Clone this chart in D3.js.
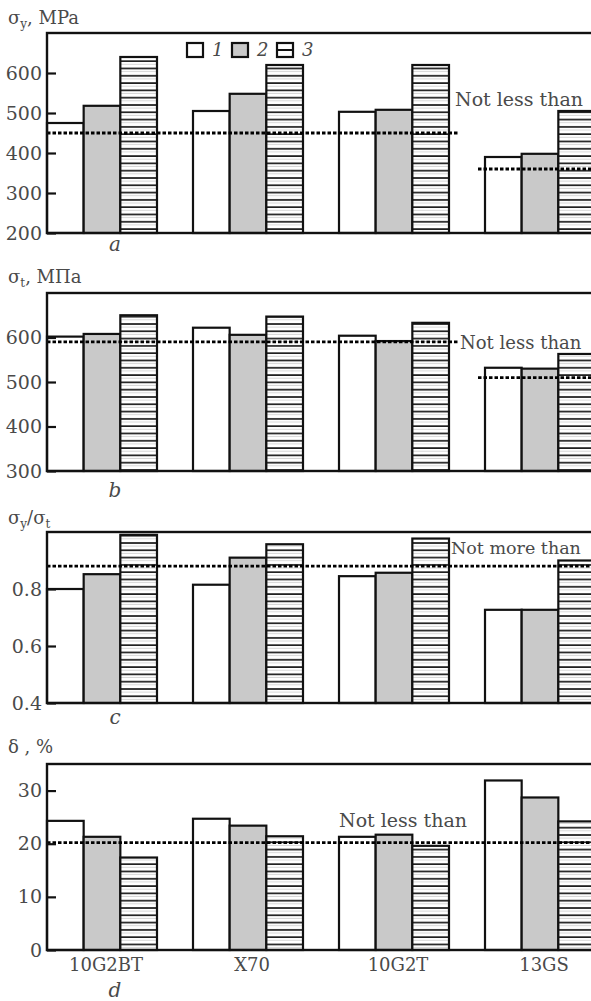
<!DOCTYPE html>
<html>
<head>
<meta charset="utf-8">
<script src="https://cdn.jsdelivr.net/npm/d3@7/dist/d3.min.js"></script>
<style>
  body { margin: 0; background: #fff; }
  text { font-family: "DejaVu Serif", serif; fill: #4a4a4a; }
</style>
</head>
<body>
<svg id="chart" width="591" height="1001"></svg>
<script>
// steel grades and the three states (1, 2, 3)
const categories = ['10G2BT', 'X70', '10G2T', '13GS'];
const seriesNames = ['1', '2', '3'];

// yield strength, MPa
const yieldValues = [[475, 518, 640], [505, 548, 620], [503, 508, 620], [390, 398, 505]];
const yieldLimits = [450, 450, 450, 360];
const yieldTicks = [200, 300, 400, 500, 600];

// tensile strength, MPa
const tensileValues = [[602, 608, 650], [622, 606, 647], [604, 592, 633], [532, 530, 563]];
const tensileLimits = [590, 590, 590, 510];
const tensileTicks = [300, 400, 500, 600];

// yield / tensile ratio
const ratioValues = [[0.80, 0.852, 0.99], [0.815, 0.91, 0.957], [0.845, 0.857, 0.977], [0.727, 0.727, 0.90]];
const ratioLimits = [0.88, 0.88, 0.88, 0.88];
const ratioTicks = [0.4, 0.6, 0.8];

// elongation, %
const elongValues = [[24.3, 21.3, 17.4], [24.7, 23.4, 21.4], [21.3, 21.7, 19.6], [31.9, 28.7, 24.2]];
const elongLimits = [20.2, 20.2, 20.2, 20.2];
const elongTicks = [0, 10, 20, 30];

const svg = d3.select('#chart');
const left = 47;
const right = 610;
const fontFamily = '"DejaVu Serif", serif';

const x0 = d3.scaleBand()
  .domain(categories)
  .range([left, 595])
  .paddingInner(0.2466)
  .paddingOuter(0);

const x1 = d3.scaleBand()
  .domain(seriesNames)
  .range([0, x0.bandwidth()]);

// striped fill for series 3
const defs = svg.append('defs');
const stripes = defs.append('pattern')
  .attr('id', 'stripes')
  .attr('patternUnits', 'userSpaceOnUse')
  .attr('width', 10)
  .attr('height', 7.3);
stripes.append('rect').attr('width', 10).attr('height', 7.3).attr('fill', '#fff');
stripes.append('rect').attr('y', 2).attr('width', 10).attr('height', 1.6).attr('fill', '#111');
stripes.append('rect').attr('y', 5.4).attr('width', 10).attr('height', 0.8).attr('fill', '#ccc');

const fills = { '1': '#fff', '2': '#c9c9c9', '3': 'url(#stripes)' };

const panels = [
  {
    values: yieldValues, limits: yieldLimits, ticks: yieldTicks, domain: [200, 700],
    top: 33, bottom: 233, fmt: d3.format('d'),
    title: ['σ', 'y', ', MPa'], titleY: 24, letter: 'a', letterY: 251,
    note: 'Not less than', noteX: 455, noteY: 106, noteSize: 19,
  },
  {
    values: tensileValues, limits: tensileLimits, ticks: tensileTicks, domain: [300, 700],
    top: 293, bottom: 471, fmt: d3.format('d'),
    title: ['σ', 't', ', MПa'], titleY: 283, letter: 'b', letterY: 497,
    note: 'Not less than', noteX: 460, noteY: 349, noteSize: 18,
  },
  {
    values: ratioValues, limits: ratioLimits, ticks: ratioTicks, domain: [0.4, 1.0],
    top: 532, bottom: 703, fmt: d3.format('.1f'),
    title: ['σ', 'y', '/σ', 't'], titleY: 524, letter: 'c', letterY: 724,
    note: 'Not more than', noteX: 451, noteY: 554, noteSize: 17.5,
  },
  {
    values: elongValues, limits: elongLimits, ticks: elongTicks, domain: [0, 35],
    top: 764, bottom: 950, fmt: d3.format('d'),
    title: ['δ , %'], titleY: 753, letter: 'd', letterY: 997,
    note: 'Not less than', noteX: 339, noteY: 827, noteSize: 19, xLabels: true,
  },
];

panels.forEach((p) => {
  const y = d3.scaleLinear().domain(p.domain).range([p.bottom, p.top]);
  const g = svg.append('g');

  // title with subscripts
  const title = g.append('text').attr('x', 8).attr('y', p.titleY).style('font-size', '18px');
  p.title.forEach((part, i) => {
    const sub = (p.title.length > 1) && (i % 2 === 1);
    title.append('tspan')
      .attr('dy', sub ? 4 : (i > 0 ? -4 : 0))
      .style('font-size', sub ? '12px' : '18px')
      .text(part);
  });

  // bars
  const groups = g.selectAll('.grp')
    .data(categories.map((c, i) => ({ cat: c, vals: p.values[i] })))
    .enter().append('g')
    .attr('transform', (d) => `translate(${x0(d.cat)},0)`);

  groups.selectAll('rect')
    .data((d) => d.vals.map((v, j) => ({ s: seriesNames[j], v })))
    .enter().append('rect')
    .attr('x', (d) => x1(d.s))
    .attr('y', (d) => y(d.v))
    .attr('width', x1.bandwidth())
    .attr('height', (d) => p.bottom - y(d.v))
    .attr('fill', (d) => fills[d.s])
    .attr('stroke', '#111')
    .attr('stroke-width', 2.2);

  // requirement lines, one segment per run of equal limits
  const segs = [];
  p.limits.forEach((v, i) => {
    const last = segs[segs.length - 1];
    if (last && last.v === v) last.end = i;
    else segs.push({ v, start: i, end: i });
  });
  g.selectAll('.limit')
    .data(segs)
    .enter().append('line')
    .attr('x1', (d) => (d.start === 0 ? left : x0(categories[d.start]) - 7))
    .attr('x2', (d) => (d.end === categories.length - 1 ? right : x0(categories[d.end]) + x0.bandwidth() + 9))
    .attr('y1', (d) => y(d.v))
    .attr('y2', (d) => y(d.v))
    .attr('stroke', '#000')
    .attr('stroke-width', 2.8)
    .attr('stroke-dasharray', '3.5,2');

  g.append('text')
    .attr('x', p.noteX)
    .attr('y', p.noteY)
    .style('font-size', `${p.noteSize}px`)
    .text(p.note);

  // frame
  g.append('rect')
    .attr('x', left)
    .attr('y', p.top)
    .attr('width', right - left + 20)
    .attr('height', p.bottom - p.top)
    .attr('fill', 'none')
    .attr('stroke', '#111')
    .attr('stroke-width', 2.4);

  // y axis with inward ticks
  const axis = g.append('g')
    .attr('transform', `translate(${left},0)`)
    .call(d3.axisLeft(y).tickValues(p.ticks).tickFormat(p.fmt).tickSizeInner(-9).tickSizeOuter(0).tickPadding(5));
  axis.select('.domain').remove();
  axis.selectAll('line').attr('stroke', '#111').attr('stroke-width', 2.2);
  axis.selectAll('text')
    .attr('fill', '#4a4a4a')
    .style('font-family', fontFamily)
    .style('font-size', '19px');

  if (p.xLabels) {
    const xa = g.append('g')
      .attr('transform', `translate(4,${p.bottom})`)
      .call(d3.axisBottom(x0).tickSize(0).tickPadding(8));
    xa.select('.domain').remove();
    xa.selectAll('text')
      .attr('fill', '#4a4a4a')
      .style('font-family', fontFamily)
      .style('font-size', '18px');
  }

  g.append('text')
    .attr('x', 115)
    .attr('y', p.letterY)
    .attr('text-anchor', 'middle')
    .style('font-size', '20px')
    .style('font-style', 'italic')
    .text(p.letter);
});

// legend
const legend = svg.append('g').attr('transform', 'translate(187,43)');
const item = legend.selectAll('g')
  .data(seriesNames)
  .enter().append('g')
  .attr('transform', (d, i) => `translate(${i * 45},0)`);
item.append('rect')
  .attr('width', 16)
  .attr('height', 14)
  .attr('fill', (d) => (d === '3' ? '#fff' : fills[d]))
  .attr('stroke', '#111')
  .attr('stroke-width', 2.2);
item.filter((d) => d === '3').append('line')
  .attr('x1', 0).attr('x2', 16).attr('y1', 7).attr('y2', 7)
  .attr('stroke', '#111').attr('stroke-width', 2);
item.append('text')
  .attr('x', 25)
  .attr('y', 13)
  .style('font-size', '18px')
  .style('font-style', 'italic')
  .text((d) => d);
</script>
</body>
</html>
